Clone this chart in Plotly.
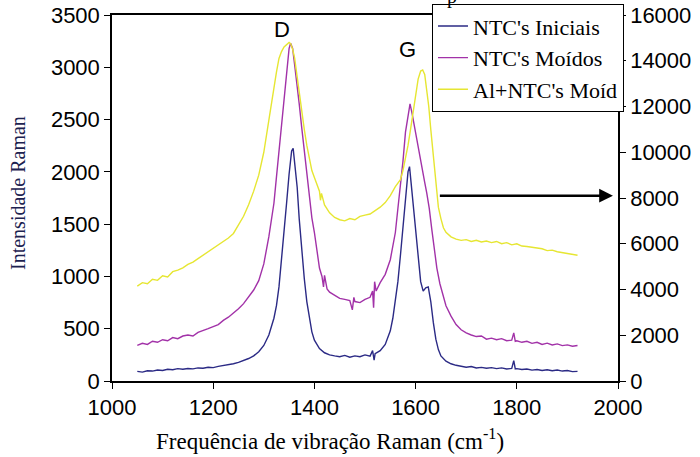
import plotly.graph_objects as go

# ---- data ----
x_ini = [1050,1060,1070,1080,1090,1100,1110,1120,1130,1140,1150,1160,1170,1180,1190,1200,1210,1220,1230,1240,1250,1260,1270,1280,1290,1300,1310,1320,1325,1330,1335,1340,1345,1350,1355,1358,1362,1366,1370,1375,1380,1385,1390,1395,1400,1410,1420,1430,1440,1450,1460,1470,1480,1490,1500,1510,1515,1518,1520,1530,1540,1550,1555,1560,1565,1570,1575,1580,1585,1588,1592,1596,1600,1605,1610,1615,1620,1625,1630,1635,1640,1645,1650,1660,1670,1680,1690,1700,1710,1720,1730,1740,1750,1760,1770,1780,1790,1794,1797,1800,1810,1820,1830,1840,1850,1860,1870,1880,1890,1900,1910,1920]
y_ini = [92,85,98,95,105,100,112,108,118,112,120,116,125,122,132,128,140,146,155,165,178,195,215,240,280,340,440,600,720,900,1150,1400,1700,1980,2200,2225,2050,1850,1550,1250,980,760,600,470,390,310,270,250,240,232,245,228,240,232,250,238,290,200,262,290,350,480,600,760,950,1200,1450,1750,2000,2050,1850,1600,1380,1150,950,860,890,900,760,560,400,300,240,190,165,150,140,132,138,125,130,122,128,118,125,115,120,195,115,118,110,115,104,110,100,108,98,105,95,100,90,92]

x_moi = [1050,1060,1070,1080,1090,1100,1110,1120,1130,1140,1150,1160,1170,1180,1190,1200,1210,1220,1230,1240,1250,1260,1270,1280,1290,1300,1310,1315,1320,1325,1330,1335,1340,1345,1350,1353,1357,1361,1365,1370,1375,1380,1385,1390,1395,1400,1405,1410,1415,1418,1420,1425,1430,1440,1450,1460,1470,1475,1478,1480,1490,1500,1510,1515,1517,1519,1522,1530,1540,1550,1555,1560,1565,1570,1575,1580,1585,1589,1593,1597,1602,1607,1612,1618,1622,1627,1632,1637,1642,1648,1655,1660,1670,1680,1690,1700,1710,1720,1730,1740,1750,1760,1770,1780,1790,1794,1797,1800,1810,1820,1830,1840,1850,1860,1870,1880,1890,1900,1910,1920]
y_moi = [340,360,350,380,370,395,385,415,405,430,440,430,465,480,500,520,540,580,610,650,690,740,800,870,960,1120,1380,1520,1700,1950,2200,2480,2750,3000,3180,3230,3180,3020,2870,2650,2420,2200,1960,1740,1560,1420,1250,1080,1000,900,1010,880,850,820,790,780,770,680,800,760,750,780,800,860,700,950,860,940,1020,1160,1280,1420,1650,1850,2100,2380,2560,2650,2560,2450,2320,2180,2030,1900,1800,1650,1450,1250,1080,930,800,720,620,540,490,460,440,425,430,400,410,395,405,385,390,460,380,385,370,380,360,370,350,362,345,355,338,345,332,340]

x_al = [1050,1060,1070,1080,1090,1100,1110,1120,1130,1140,1150,1160,1170,1180,1190,1200,1210,1220,1230,1240,1250,1260,1270,1280,1290,1300,1310,1320,1325,1330,1335,1340,1345,1350,1353,1357,1361,1365,1370,1375,1380,1385,1390,1395,1400,1405,1410,1412,1414,1420,1430,1440,1450,1460,1470,1480,1490,1500,1510,1520,1530,1540,1550,1560,1570,1575,1580,1585,1590,1595,1600,1605,1610,1614,1618,1622,1626,1630,1635,1640,1645,1650,1655,1660,1670,1680,1690,1700,1710,1720,1730,1740,1750,1760,1770,1780,1790,1800,1810,1820,1830,1840,1850,1860,1870,1880,1890,1900,1910,1920]
y_al = [4150,4300,4250,4450,4400,4600,4550,4780,4850,4950,5100,5200,5350,5500,5650,5800,5950,6100,6250,6450,6800,7200,7700,8300,9000,10000,11400,12900,13500,14100,14400,14600,14700,14800,14750,14500,14100,13400,12700,11800,11000,10300,9700,9200,8900,8600,8300,7900,8200,7700,7350,7150,7050,7000,7100,7050,7200,7250,7300,7450,7600,7800,8100,8500,8800,9200,9700,10300,11000,11800,12600,13200,13550,13600,13400,12800,12000,11000,9800,8500,7600,7100,6700,6500,6300,6200,6150,6180,6100,6150,6080,6120,6050,6100,6000,6050,5950,6000,5900,5880,5850,5800,5780,5700,5720,5650,5620,5580,5530,5500]

names = ["NTC's Iniciais", "NTC's Moídos", "Al+NTC's Moíd"]
colors = ["#2b2a85", "#a232a8", "#e6e632"]

left_ticks = [0, 500, 1000, 1500, 2000, 2500, 3000, 3500]
right_ticks = [0, 2000, 4000, 6000, 8000, 10000, 12000, 14000, 16000]
right_labels = ["0", "2000", "4000", "6000", "8000", "10000", "12000", "14000", "16000"]
x_ticks = [1000, 1200, 1400, 1600, 1800, 2000]

fig = go.Figure()
fig.add_trace(go.Scatter(x=x_ini, y=y_ini, mode="lines", name=names[0],
                         line=dict(color=colors[0], width=1.4)))
fig.add_trace(go.Scatter(x=x_moi, y=y_moi, mode="lines", name=names[1],
                         line=dict(color=colors[1], width=1.4)))
fig.add_trace(go.Scatter(x=x_al, y=y_al, mode="lines", name=names[2], yaxis="y2",
                         line=dict(color=colors[2], width=1.4)))

tickfont = dict(family="Liberation Sans, Arial", size=22, color="black")
serif = "Liberation Serif, Times New Roman"

fig.update_layout(
    width=700, height=457,
    margin=dict(l=112, r=82, t=15, b=76, autoexpand=False),
    paper_bgcolor="white", plot_bgcolor="white",
    xaxis=dict(range=[1000, 2000], tickvals=x_ticks, showgrid=False, zeroline=False,
               showline=True, linecolor="black", linewidth=1.5, mirror=True,
               ticks="outside", ticklen=6, tickcolor="black", tickfont=tickfont),
    yaxis=dict(range=[0, 3500], tickvals=left_ticks, showgrid=False, zeroline=False,
               showline=True, linecolor="black", linewidth=1.5,
               ticks="outside", ticklen=6, tickcolor="black", tickfont=tickfont),
    yaxis2=dict(range=[0, 16000], tickvals=right_ticks, ticktext=right_labels,
                overlaying="y", side="right",
                showgrid=False, zeroline=False, showline=True, linecolor="black", linewidth=1.5,
                ticks="outside", ticklen=6, tickcolor="black", tickfont=tickfont),
    legend=dict(x=0.632, y=1.03, xanchor="left", yanchor="top",
                bgcolor="white", bordercolor="black", borderwidth=1.2,
                font=dict(family=serif, size=22, color="black"),
                tracegroupgap=0, itemwidth=30),
    showlegend=True,
)

fig.add_annotation(x=1335, y=3360, text="D", showarrow=False,
                   font=dict(family="Liberation Sans, Arial", size=22, color="black"))
fig.add_annotation(x=1584, y=3170, text="G", showarrow=False,
                   font=dict(family="Liberation Sans, Arial", size=22, color="black"))
fig.add_annotation(x=1990, y=8100, xref="x", yref="y2", ax=1645, ay=8100,
                   axref="x", ayref="y2", text="", showarrow=True,
                   arrowhead=2, arrowsize=1.1, arrowwidth=2.5, arrowcolor="black")
fig.add_annotation(x=(18 - 112) / 506, y=(381 - 193) / 366, xref="paper", yref="paper",
                   xanchor="center", yanchor="middle",
                   text="Intensidade Raman", textangle=-90, showarrow=False,
                   font=dict(family=serif, size=20, color="#1c2250"))
fig.add_annotation(x=(330 - 112) / 506, y=(381 - 439) / 366, xref="paper", yref="paper",
                   xanchor="center", yanchor="middle",
                   text="Frequência de vibração Raman (cm<sup>-1</sup>)", showarrow=False,
                   font=dict(family=serif, size=23, color="black"))
fig.add_annotation(x=(452 - 112) / 506, y=(381 + 3) / 366, xref="paper", yref="paper",
                   xanchor="center", yanchor="middle",
                   text="p", showarrow=False,
                   font=dict(family=serif, size=20, color="black"))

fig.write_html("out.html")
